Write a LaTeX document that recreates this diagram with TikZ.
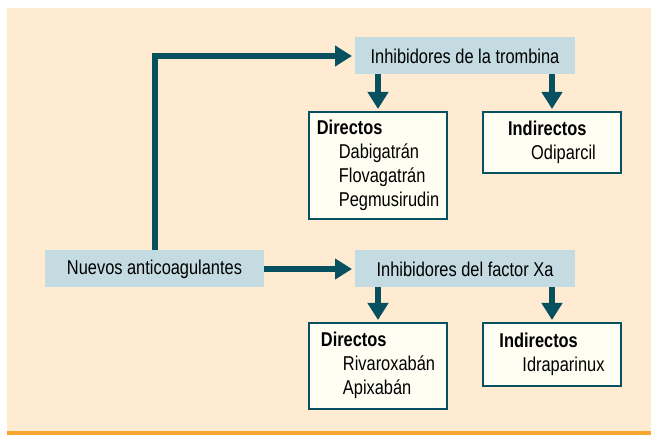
\documentclass[tikz,border=0pt]{standalone}
\usepackage{fontspec}
\setmainfont{Liberation Sans}[FakeStretch=0.82]
\usepackage{tikz}
\usetikzlibrary{arrows.meta}
\definecolor{bg_beige}{HTML}{FEEBD2}
\definecolor{bar_orange}{HTML}{F9A631}
\definecolor{box_blue}{HTML}{C3DBE1}
\definecolor{box_ivory}{HTML}{FFFEF3}
\definecolor{dark_teal}{HTML}{07505F}

\begin{document}
\begin{tikzpicture}[x=1pt,y=-1pt,inner sep=0pt,outer sep=0pt,
    every node/.style={font=\fontsize{20}{24}\selectfont},
    classbox/.style={fill=box_blue,minimum width=220pt,minimum height=37pt},
    drugbox/.style={fill=box_ivory,draw=dark_teal,line width=2pt,minimum width=138pt,anchor=north},
    flow/.style={draw=dark_teal,line width=6pt,-{Triangle[length=17pt,width=20pt]},shorten >=3pt}]
    % 
    \useasboundingbox (0,0) rectangle (651,435);
    \fill[bg_beige] (7,8) rectangle (651,431);
    \fill[bar_orange] (7,431) rectangle (651,435);

    \node[classbox,minimum width=219pt] (nuevos) at (154.5,269) {Nuevos anticoagulantes};
    \node[classbox] (trombina) at (465,56) {Inhibidores de la trombina};
    \node[classbox] (factor_xa) at (465,269) {Inhibidores del factor Xa};

    \node[drugbox,minimum height=107pt] (dir_trombina) at (378,112)
    {
    \begin{tabular}{@{}l@{}}
    \textbf{Directos} \\
    \hspace{22pt}Dabigatrán \\
    \hspace{22pt}Flovagatrán \\
    \hspace{22pt}Pegmusirudin \\
    \end{tabular}
    };
    \node[drugbox,minimum height=61pt] (ind_trombina) at (552,112)
    {
    \begin{tabular}{@{}l@{}}
    \textbf{Indirectos} \\
    \hspace{23pt}Odiparcil \\
    \end{tabular}
    };
    \node[drugbox,minimum height=86pt] (dir_xa) at (378,323)
    {
    \begin{tabular}{@{}l@{}}
    \textbf{Directos} \\
    \hspace{22pt}Rivaroxabán \\
    \hspace{22pt}Apixabán \\
    \end{tabular}
    };
    \node[drugbox,minimum height=63pt] (ind_xa) at (552,323)
    {
    \begin{tabular}{@{}l@{}}
    \textbf{Indirectos} \\
    \hspace{23pt}Idraparinux \\
    \end{tabular}
    };

    \draw[flow] (nuevos.north) |- (trombina.west);
    \draw[flow] (nuevos.east) -- (factor_xa.west);
    \draw[flow] (trombina.south -| dir_trombina.north) -- (dir_trombina.north);
    \draw[flow] (trombina.south -| ind_trombina.north) -- (ind_trombina.north);
    \draw[flow] (factor_xa.south -| dir_xa.north) -- (dir_xa.north);
    \draw[flow] (factor_xa.south -| ind_xa.north) -- (ind_xa.north);
\end{tikzpicture}
\end{document}
